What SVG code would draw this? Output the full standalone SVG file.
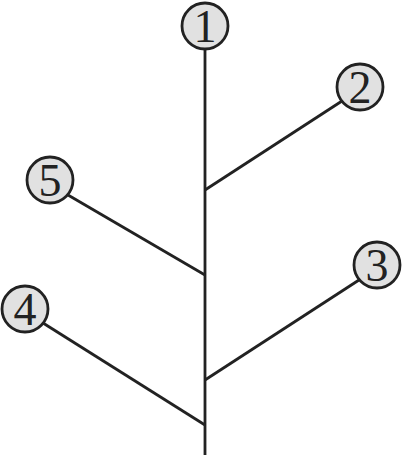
<svg xmlns="http://www.w3.org/2000/svg" width="404" height="455" viewBox="0 0 404 455">
<style>
.n circle{fill:#e1e1e1;stroke:#222;stroke-width:2.8}
.n text{font-family:"Liberation Serif",serif;font-size:46px;fill:#222;text-anchor:middle}
.c line{stroke:#222;stroke-width:2.8}
</style>
<rect width="404" height="455" fill="#fff"/>
<g class="c">
<line x1="205" y1="48" x2="205" y2="455"/>
<line x1="205" y1="190" x2="342" y2="101"/>
<line x1="68" y1="195" x2="205" y2="275"/>
<line x1="205" y1="380" x2="359" y2="280"/>
<line x1="43" y1="323" x2="205" y2="425"/>
</g>
<g id="n1" class="n"><circle cx="205" cy="26" r="23"/><text x="205" y="42">1</text></g>
<g id="n2" class="n"><circle cx="360" cy="87" r="23"/><text x="360" y="103">2</text></g>
<g id="n5" class="n"><circle cx="50" cy="180" r="23"/><text x="50" y="196">5</text></g>
<g id="n4" class="n"><circle cx="25" cy="309" r="23"/><text x="25" y="325">4</text></g>
<g id="n3" class="n"><circle cx="377" cy="265" r="23"/><text x="377" y="281">3</text></g>
</svg>
